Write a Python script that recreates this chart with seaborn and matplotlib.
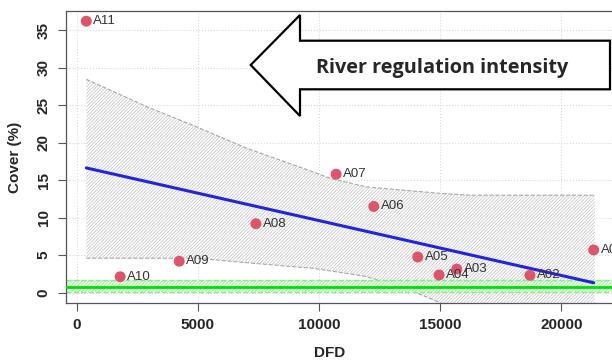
import numpy as np
import pandas as pd
import seaborn as sns
import matplotlib
matplotlib.use("Agg")
import matplotlib.pyplot as plt
from matplotlib.patches import Polygon

# sites: distance (DFD) and cover (%)
sites = ["A01", "A02", "A03", "A04", "A05", "A06", "A07", "A08", "A09", "A10", "A11"]
dfd = [21330, 18700, 15680, 14950, 14070, 12255, 10700, 7390, 4227, 1790, 392]
cover = [5.7, 2.32, 3.16, 2.36, 4.76, 11.5, 15.8, 9.2, 4.2, 2.13, 36.2]

# hatched band around the fit
upper_x = [392, 2895, 4957, 7019, 9765, 10450, 11967, 14990, 16230, 21380]
upper_y = [28.45, 24.8, 22.1, 19.25, 16.1, 15.25, 14.1, 13.25, 13.0, 13.0]
lower_x = [392, 4957, 7019, 9765, 11827, 13202, 14577, 16500, 21380]
lower_y = [4.6, 4.6, 4.0, 3.25, 2.23, 1.03, -0.75, -3.5, -7.0]

# reference level (green)
ref_level = 0.8
ref_lo = 0.05
ref_hi = 1.7

df = pd.DataFrame({"site": sites, "DFD": dfd, "cover": cover})

sns.set_theme(style="white")
plt.rcParams["font.family"] = ["Liberation Sans", "DejaVu Sans"]
plt.rcParams["hatch.linewidth"] = 0.5

fig = plt.figure(figsize=(6.12, 3.62), dpi=100)
ax = fig.add_axes([66 / 612, 59 / 362, (614 - 66) / 612, (303 - 11) / 362])

# grid
for v in [0, 5000, 10000, 15000, 20000]:
    ax.axvline(v, color="#d9d9d9", lw=0.8, ls=":", zorder=0)
for v in range(0, 40, 5):
    ax.axhline(v, color="#d9d9d9", lw=0.8, ls=":", zorder=0)

# grey hatched band
ax.fill(upper_x + lower_x[::-1], upper_y + lower_y[::-1], facecolor="white",
        edgecolor="#c0c0c0", hatch="/" * 10, lw=0, zorder=1)
ax.plot(upper_x, upper_y, color="#a8a8a8", lw=0.8, ls="--", zorder=1)
ax.plot(lower_x, lower_y, color="#a8a8a8", lw=0.8, ls="--", zorder=1)

# green reference band
ax.axhspan(ref_lo, ref_hi, facecolor="#ecfcec", edgecolor="#8ee88e", hatch="/" * 10,
           lw=0, zorder=2)
ax.axhline(ref_hi, color="#8ee88e", lw=1, ls="--", zorder=2)
ax.axhline(ref_lo, color="#8ee88e", lw=1, ls="--", zorder=2)
ax.axhline(ref_level, color="#00e000", lw=2, zorder=3)

# regression line
sns.regplot(data=df, x="DFD", y="cover", scatter=False, ci=None, truncate=True,
            color="#2424d8", line_kws={"lw": 2.2, "zorder": 4}, ax=ax)

# points
sns.scatterplot(data=df, x="DFD", y="cover", color="#df536b", s=62, edgecolor="none",
                zorder=5, ax=ax, clip_on=False)
for s, x, y in zip(sites, dfd, cover):
    ax.annotate(s, (x, y), xytext=(5, 0), textcoords="offset points", va="center",
                ha="left", fontsize=9.5, color="#333333", zorder=6)

ax.set_xlim(-445, 22167)
ax.set_ylim(-1.37, 37.56)
ax.set_xticks([0, 5000, 10000, 15000, 20000])
ax.set_yticks(range(0, 40, 5))
ax.tick_params(axis="both", direction="out", length=6, width=0.8, color="#555555",
               labelsize=11, pad=5, bottom=True, left=True)
for lab in ax.get_xticklabels():
    lab.set_fontweight("bold")
for lab in ax.get_yticklabels():
    lab.set_fontweight("bold")
    lab.set_rotation(90)
    lab.set_va("center")
for side in ["left", "bottom", "top"]:
    ax.spines[side].set_color("#555555")
    ax.spines[side].set_linewidth(0.9)
ax.spines["right"].set_visible(False)

ax.set_xlabel("DFD", fontsize=11, fontweight="bold")
ax.xaxis.set_label_coords((330 - 66) / 548, -(346 - 303) / 292)
ax.set_ylabel("Cover (%)", fontsize=11, fontweight="bold")
ax.yaxis.set_label_coords(-(66 - 22) / 548, 0.5)

# big arrow annotation
pts = [(250.7, 65), (300, 15), (300, 40.7), (610, 40.7), (610, 89.3), (300, 89.3), (300, 116)]
pts = [(px / 612, 1 - py / 362) for px, py in pts]
fig.patches.append(Polygon(pts, closed=True, facecolor="white", edgecolor="black",
                           lw=1.6, transform=fig.transFigure, zorder=10))
fig.text(442 / 612, 1 - 68 / 362, "River regulation intensity", ha="center", va="center",
         fontsize=14.3, fontweight="bold", family=["Open Sans", "DejaVu Sans"], zorder=11)

fig.savefig("out.png", dpi=100)
